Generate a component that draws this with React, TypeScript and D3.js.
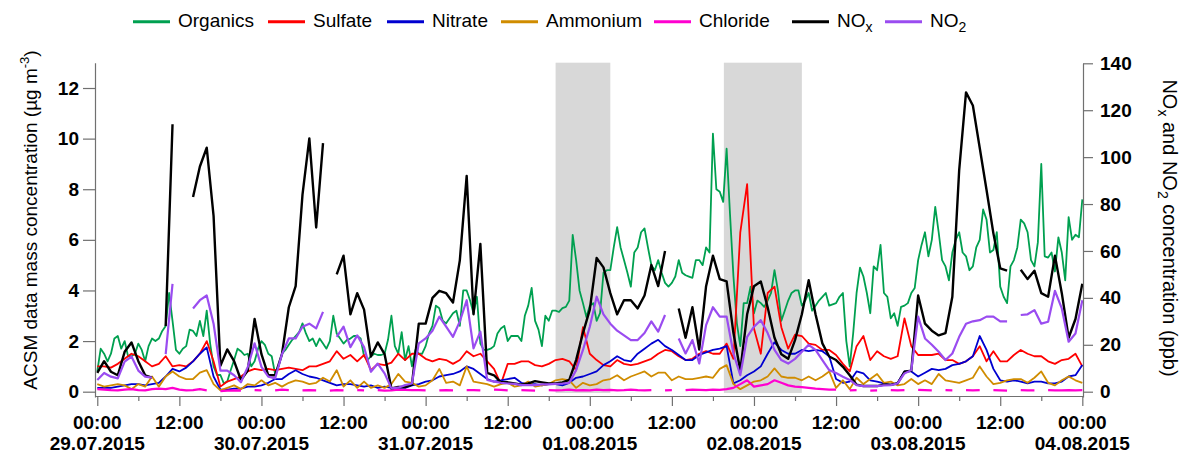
import React, { useEffect, useRef } from 'react'
import * as d3 from 'd3'

// measurements from 29.07.2015 00:00 to 04.08.2015 00:00
const START = Date.UTC(2015, 6, 29, 0, 0)

// organics: half-hourly (289 points)
const organics = [
  0.8, 1.7, 1.5, 1.2, 1.5, 2.1, 2.2, 1.7, 2.0, 1.4,
  1.4, 1.5, 1.9, 1.65, 1.2, 1.8, 2.1, 2.0, 2.1, 2.4,
  2.6, 3.9, 2.8, 1.65, 1.5, 1.7, 1.8, 2.45, 2.4, 2.2,
  2.8, 2.2, 3.2, 1.9, 1.0, 0.66, 0.66, 0.33, 0.4, 0.85,
  1.25, 1.7, 1.6, 1.45, 1.5, 1.0, 1.2, 1.7, 2.0, 1.85,
  1.5, 1.4, 0.7, 1.0, 1.5, 1.65, 1.85, 2.05, 2.2, 2.35,
  2.7, 2.3, 2.0, 2.1, 1.8, 2.1, 1.9, 1.7, 2.0, 3.0,
  2.3, 2.1, 1.9, 2.05, 2.1, 2.2, 2.2, 2.1, 1.4, 1.25,
  1.4, 1.5, 1.45, 1.45, 1.5, 2.05, 3.0, 1.8, 1.5, 2.35,
  1.25, 1.8, 1.0, 1.65, 1.5, 1.5, 1.8, 2.3, 2.6, 3.4,
  3.3, 2.8, 2.7, 2.9, 3.1, 3.2, 2.6, 4.0, 4.0, 3.6,
  3.1, 3.75, 1.9, 1.65, 1.65, 1.7, 1.8, 2.3, 2.5, 2.6,
  2.0, 2.2, 2.2, 2.2, 2.0, 3.0, 3.4, 4.1, 2.8, 2.45,
  1.8, 3.0, 2.8, 3.2, 3.2, 3.15, 3.3, 3.35, 3.6, 6.2,
  5.2, 4.0, 3.5, 2.95, 3.4, 3.5, 2.8, 3.1, 4.7, 4.8,
  4.8, 5.7, 6.5, 5.7, 5.2, 4.7, 4.15, 5.5, 5.7, 6.3,
  6.45, 5.7, 5.0, 4.8, 5.2, 4.7, 4.3, 4.15, 4.3, 4.55,
  5.2, 4.7, 4.6, 4.55, 4.5, 5.2, 5.2, 5.0, 5.7, 5.5,
  10.2, 8.0, 7.9, 7.5, 9.6, 7.0, 4.55, 2.7, 1.8, 3.5,
  3.5, 4.15, 3.1, 3.6, 3.5, 3.35, 3.6, 3.9, 4.8, 4.0,
  2.8, 3.2, 3.6, 3.9, 4.0, 4.0, 3.4, 3.6, 3.9, 3.2,
  3.4, 3.6, 3.75, 3.9, 3.4, 3.45, 3.5, 3.75, 3.9, 2.0,
  1.0, 2.3, 3.9, 4.9, 4.55, 3.9, 3.1, 4.95, 4.8, 5.8,
  3.9, 3.75, 2.9, 3.1, 2.6, 3.35, 3.4, 3.5, 3.9, 4.1,
  5.2, 5.8, 6.3, 5.35, 6.0, 7.3, 6.3, 5.2, 4.95, 4.4,
  5.5, 6.0, 6.3, 5.5, 5.35, 4.8, 4.95, 5.7, 6.0, 7.2,
  6.8, 5.5, 5.6, 6.3, 4.15, 3.75, 3.5, 4.95, 5.2, 5.7,
  6.8, 6.65, 6.3, 5.2, 4.95, 5.9, 9.0, 5.35, 5.3, 5.5,
  4.75, 6.1, 5.5, 4.4, 6.9, 6.0, 6.2, 6.1, 7.6,
]

// the rest: hourly (145 points)
const sulfate = [
  1.0, 1.0, 0.95, 1.1, 1.3, 1.5, 1.4, 1.2, 1.0, 1.1,
  1.4, 1.0, 1.05, 1.0, 1.2, 1.5, 2.0, 1.2, 0.2, 0.4,
  0.5, 0.6, 0.8, 0.9, 0.85, 0.9, 0.85, 0.9, 0.95, 0.9,
  0.85, 1.0, 1.0, 1.1, 1.2, 1.6, 1.3, 1.45, 1.2, 1.45,
  0.85, 1.1, 1.05, 1.15, 1.5, 1.25, 1.5, 1.5, 1.3, 1.2,
  1.3, 1.25, 1.1, 1.25, 1.6, 1.4, 1.5, 1.2, 0.9, 0.3,
  1.1, 1.1, 1.2, 1.2, 1.05, 1.0, 1.1, 1.25, 1.3, 1.2,
  0.85, 2.55, 1.5, 1.25, 1.05, 1.0, 1.25, 1.1, 1.05, 1.1,
  1.2, 1.3, 1.5, 1.65, 1.6, 1.4, 1.25, 1.3, 1.5, 1.6,
  1.5, 1.5, 1.9, 1.3, 6.3, 8.2, 2.5, 1.5, 3.9, 4.15,
  2.55, 1.7, 2.25, 2.2, 1.9, 1.85, 1.65, 1.65, 1.45, 1.1,
  0.8, 1.8, 2.2, 1.25, 1.6, 1.4, 1.3, 1.4, 2.9, 1.8,
  1.45, 1.45, 1.45, 1.5, 1.25, 1.25, 1.1, 1.2, 1.4, 1.8,
  1.2, 1.6, 1.2, 1.2, 1.45, 1.65, 1.5, 1.4, 1.4, 1.2,
  1.1, 1.25, 1.3, 1.5, 1.0,
]

const nitrate = [
  0.15, 0.15, 0.15, 0.2, 0.25, 0.3, 0.3, 0.25, 0.3, 0.35,
  0.6, 0.9, 0.8, 0.95, 1.2, 1.5, 1.75, 0.6, 0.08, 0.08,
  0.12, 0.12, 0.2, 0.2, 0.25, 0.35, 0.5, 0.5, 0.7, 0.85,
  0.7, 0.6, 0.55, 0.45, 0.35, 0.25, 0.3, 0.3, 0.25, 0.2,
  0.25, 0.15, 0.2, 0.15, 0.15, 0.15, 0.25, 0.3, 0.4, 0.45,
  0.6, 0.65, 0.7, 0.8, 1.0, 0.9, 0.7, 0.5, 0.4, 0.45,
  0.5, 0.55, 0.35, 0.3, 0.3, 0.25, 0.3, 0.3, 0.25, 0.35,
  0.55, 0.6, 0.7, 0.8, 1.05, 1.2, 1.4, 1.25, 1.2, 1.5,
  1.7, 1.9, 2.05, 1.8, 1.65, 1.45, 1.25, 1.25, 1.45, 1.55,
  1.65, 1.7, 1.8, 0.33, 0.45, 0.65, 0.8, 1.0, 1.5, 1.95,
  1.65, 1.5, 1.5, 1.65, 1.6, 1.65, 1.6, 1.4, 0.5, 0.35,
  0.4, 0.8, 0.72, 0.45, 0.4, 0.33, 0.26, 0.35, 0.8, 0.8,
  0.6, 0.75, 0.9, 0.85, 0.9, 1.05, 1.1, 1.2, 1.4, 2.2,
  1.65, 0.9, 0.45, 0.4, 0.45, 0.4, 0.33, 0.4, 0.4, 0.33,
  0.33, 0.4, 0.6, 0.65, 1.05,
]

const ammonium = [
  0.3, 0.2, 0.25, 0.3, 0.25, 0.1, 0.3, 0.2, 0.6, 0.2,
  0.6, 0.8, 0.6, 0.5, 0.5, 0.75, 0.85, 0.3, 0.05, 0.15,
  0.25, 0.1, 0.3, 0.25, 0.45, 0.25, 0.35, 0.2, 0.35, 0.45,
  0.4, 0.3, 0.35, 0.55, 0.4, 0.85, 0.2, 0.45, 0.15, 0.4,
  0.15, 0.25, 0.15, 0.3, 0.7, 0.4, 0.35, 0.2, 0.25, 0.45,
  0.9, 0.35, 0.4, 0.25, 1.0, 0.4, 0.35, 0.3, 0.2, 0.3,
  0.35, 0.2, 0.25, 0.4, 0.2, 0.25, 0.3, 0.45, 0.5, 0.45,
  0.15, 0.35, 0.25, 0.3, 0.45, 0.5, 0.65, 0.45, 0.6, 0.7,
  0.8, 0.6, 0.75, 0.75, 0.45, 0.6, 0.5, 0.5, 0.55, 0.6,
  0.55, 0.9, 1.05, 0.3, 0.1, 0.25, 0.4, 0.45, 0.6, 0.92,
  0.6, 0.55, 0.55, 0.45, 0.6, 0.45, 0.6, 0.8, 0.15, 0.45,
  0.1, 0.55, 0.3, 0.5, 0.7, 0.35, 0.4, 0.25, 0.3, 0.5,
  0.3, 0.45, 0.3, 0.7, 0.45, 0.4, 0.35, 0.45, 0.55, 1.0,
  0.6, 0.3, 0.35, 0.45, 0.5, 0.5, 0.35, 0.55, 0.8, 0.35,
  0.25, 0.45, 0.6, 0.45, 0.35,
]

const chloride = [
  0.1, 0.08, 0.06, 0.05, 0.08, 0.1, 0.06, 0.05, 0.1, 0.12,
  0.1, 0.15, 0.08, 0.05, 0.06, 0.1, 0.05, null, 0.02, 0.04,
  0.05, 0.04, null, 0.06, 0.05, null, 0.05, 0.08, 0.06, null,
  0.05, 0.06, 0.05, null, 0.04, 0.06, 0.05, null, 0.06, 0.05,
  null, 0.06, 0.04, 0.05, 0.08, 0.07, 0.06, 0.06, 0.05, null,
  0.05, 0.06, 0.05, null, 0.06, 0.06, 0.05, null, 0.08, 0.07,
  0.05, null, 0.06, 0.05, 0.04, null, 0.06, 0.05, 0.06, 0.08,
  0.05, 0.06, 0.05, 0.08, 0.06, 0.07, 0.05, 0.06, 0.08, 0.06,
  0.05, 0.06, null, 0.05, 0.06, null, 0.06, 0.08, 0.07, 0.06,
  0.08, 0.07, 0.1, 0.15, 0.3, 0.45, 0.2, 0.25, 0.3, 0.45,
  0.35, 0.25, 0.2, 0.18, 0.15, 0.12, 0.1, 0.08, 0.08, null,
  0.05, 0.06, null, 0.04, 0.05, null, 0.06, 0.05, 0.06, null,
  0.07, 0.06, 0.05, null, 0.06, 0.05, null, 0.06, 0.05, 0.06,
  null, 0.06, 0.05, 0.04, null, 0.06, 0.05, 0.05, null, 0.06,
  0.05, 0.05, 0.06, 0.05, 0.06,
]

// ppb, right axis
const nox = [
  8, 13, 8.5, 7, 17, 21, 13, 7, 6, null,
  28, 114, null, null, 83, 96, 104, 75, 11, 18,
  13, 5, 9, 31, 16, 7, 7, 16, 36, 45,
  84, 108, 70, 106, null, 50, 58, 33, 42, 35,
  15, 21, 16, 1.4, 2, 2, 3, 29, 29, 40,
  43, 42, 38, 56, 92, 33, 63, 8, 7, 4,
  4, 3.5, 3, 3.5, 4.5, 4, 3.5, 3.5, 4, 5,
  13.5, 25, 35, 57, 53, 42, 33, 39, 39, 35.5,
  41, 54, 45, 60, null, 35.5, 23, 36, 18, 45,
  58, 48, 47, 25, 9, 33, 45, 47, 36, 23,
  16, 14, 22, 33, 47.5, 33, 20.6, 15, 13.5, 10.6,
  7, 3, 2.4, 2.4, 2.4, 3, 3, 3.5, 8.5, 9,
  41, 29, 26, 24, 25, 40.5, 94.5, 127.6, 122, 104,
  86, 67.5, 52.6, 51.6, null, 52, 48, 51.6, 42, 40.5,
  58, 42, 23, 31, 46,
]

const no2 = [
  5, 8, 6.4, 5.7, 12.8, 15, 9, 6.4, 6, null,
  16, 46, null, null, 35.5, 39, 41, 29, 9, 9,
  7, 4, 10.6, 20.6, 10.6, 6.4, 5.7, 16, 22.7, 22.7,
  27.7, 29, 27, 34, null, 23.4, 27.7, 19, 24, 19,
  8.5, 12, 7.8, 1.4, 1.7, 2.8, 3.5, 20.6, 22.7, 26,
  32, 27.7, 23.4, 30, 39, 18.5, 25.6, 5, 4.3, 3.8,
  3.5, 3.3, 2.8, 2.8, 2.8, 3.1, 3.1, 3.3, 3.5, 3.8,
  9.2, 17.8, 27.7, 40.5, 33, 29, 26, 24, 22, 22,
  25, 30, 25.6, 32.7, null, 22.7, 16.3, 22, 12, 28.4,
  36, 32, 32, 16.3, 7, 23.4, 27.7, 30.5, 25, 17.8,
  13.5, 12, 14, 17, 20, 17.8, 13.5, 9.2, 8, 6.4,
  5, 2.8, 2.4, 2.4, 2.4, 2.7, 2.8, 3.5, 7.8, 9.2,
  32, 22.7, 20, 17, 13.5, 16.3, 23.4, 29, 30, 30.5,
  32, 32, 30, 30, null, 32.7, 33, 34.8, 29, 29.8,
  43, 35.5, 21.3, 24.8, 39,
]

const leftTicks = [0, 2, 4, 6, 8, 10, 12]
const rightTicks = [0, 20, 40, 60, 80, 100, 120, 140]
// shaded periods, hours after start
const shadedHours = [[67, 75], [91.6, 103]]

const series = [
  { name: 'Organics', values: organics, step: 0.5, color: '#00a050', width: 1.8, right: false },
  { name: 'Sulfate', values: sulfate, step: 1, color: '#ff0000', width: 1.8, right: false },
  { name: 'Nitrate', values: nitrate, step: 1, color: '#0000d0', width: 1.8, right: false },
  { name: 'Ammonium', values: ammonium, step: 1, color: '#d08c00', width: 1.8, right: false },
  { name: 'Chloride', values: chloride, step: 1, color: '#ff00d0', width: 2.2, right: false },
  { name: 'NO|x', values: nox, step: 1, color: '#000000', width: 2.4, right: true },
  { name: 'NO|2', values: no2, step: 1, color: '#9a4cf0', width: 2.2, right: true },
]
const legendX = [133, 268, 387, 501, 654, 792, 885]

const FONT = "'Liberation Sans', Arial, sans-serif"

export default function App() {
  const ref = useRef<SVGSVGElement | null>(null)

  useEffect(() => {
    document.body.style.margin = '0'
    const svg = d3.select(ref.current!)
    svg.selectAll('*').remove()

    const hour = 3600e3
    const x = d3.scaleUtc()
      .domain([new Date(START - 20 * 60e3), new Date(START + 144 * hour + 6 * 60e3)])
      .range([95, 1083])
    const yL = d3.scaleLinear().domain([-0.21, 13]).range([397, 62.7])
    const yR = d3.scaleLinear().domain([-2.26, 140]).range([397, 63.3])
    const t = (h: number) => new Date(START + h * hour)

    // shaded periods
    svg.append('g').selectAll('rect').data(shadedHours).enter().append('rect')
      .attr('x', d => x(t(d[0])))
      .attr('width', d => x(t(d[1])) - x(t(d[0])))
      .attr('y', yL(13))
      .attr('height', yL(-0.05) - yL(13))
      .attr('fill', '#d8d8d8')

    // series
    const lines = svg.append('g').attr('fill', 'none').attr('stroke-linejoin', 'round')
    series.forEach(s => {
      const y = s.right ? yR : yL
      const line = d3.line<number | null>()
        .defined(d => d != null)
        .x((_, i) => x(t(i * s.step)))
        .y(d => y(d as number))
      lines.append('path')
        .datum(s.values)
        .attr('d', line)
        .attr('stroke', s.color)
        .attr('stroke-width', s.width)
    })

    // axes
    const axisColor = '#707070'
    const styleAxis = (g: d3.Selection<SVGGElement, unknown, null, undefined>) => {
      g.attr('font-family', FONT).attr('font-size', 19).attr('font-weight', 'bold')
      g.selectAll('.domain').attr('stroke', axisColor).attr('stroke-width', 1.2)
      g.selectAll('.tick line').attr('stroke', axisColor).attr('stroke-width', 1.2)
      g.selectAll('.tick text').attr('fill', '#000')
    }

    svg.append('g').attr('transform', 'translate(95,0)')
      .call(d3.axisLeft(yL).tickValues(leftTicks).tickSize(12).tickSizeOuter(0).tickPadding(4))
      .call(styleAxis)

    svg.append('g').attr('transform', 'translate(1083,0)')
      .call(d3.axisRight(yR).tickValues(rightTicks).tickSize(10).tickSizeOuter(0).tickPadding(7))
      .call(styleAxis)

    const xg = svg.append('g').attr('transform', 'translate(0,396)')
      .call(d3.axisBottom(x).ticks(d3.utcHour.every(6)).tickSize(5).tickSizeOuter(0).tickFormat(() => ''))
      .call(styleAxis)
    xg.selectAll<SVGLineElement, Date>('.tick line')
      .filter(d => d.getUTCHours() % 12 === 0)
      .attr('y2', 10)

    const fmtTime = d3.utcFormat('%H:%M')
    const fmtDate = d3.utcFormat('%d.%m.%Y')
    const major = x.ticks(d3.utcHour.every(12)!)
    const labels = svg.append('g').attr('font-family', FONT).attr('font-size', 19)
      .attr('font-weight', 'bold').attr('text-anchor', 'middle')
    labels.selectAll('text.time').data(major).enter().append('text')
      .attr('class', 'time').attr('x', d => x(d)).attr('y', 428.5).text(d => fmtTime(d))
    labels.selectAll('text.date').data(major.filter(d => d.getUTCHours() === 0)).enter().append('text')
      .attr('class', 'date').attr('x', d => x(d)).attr('y', 450).text(d => fmtDate(d))

    // axis titles
    const lt = svg.append('text').attr('font-family', FONT).attr('font-size', 19)
      .attr('text-anchor', 'middle').attr('transform', 'translate(37,220) rotate(-90)')
    lt.append('tspan').text('ACSM data mass concentration (\u00b5g m')
    lt.append('tspan').attr('font-size', 13).attr('dy', -8).text('-3')
    lt.append('tspan').attr('dy', 8).text(')')

    const rt = svg.append('text').attr('font-family', FONT).attr('font-size', 20)
      .attr('text-anchor', 'middle').attr('transform', 'translate(1163,228) rotate(90)')
    rt.append('tspan').text('NO')
    rt.append('tspan').attr('font-size', 14).attr('dy', 5).text('x')
    rt.append('tspan').attr('dy', -5).text(' and NO')
    rt.append('tspan').attr('font-size', 14).attr('dy', 5).text('2')
    rt.append('tspan').attr('dy', -5).text(' concentration (ppb)')

    // legend
    const lg = svg.append('g').attr('font-family', FONT).attr('font-size', 19)
    series.forEach((s, i) => {
      const x0 = legendX[i]
      lg.append('line').attr('x1', x0).attr('x2', x0 + 37).attr('y1', 21.7).attr('y2', 21.7)
        .attr('stroke', s.color).attr('stroke-width', 3)
      const txt = lg.append('text').attr('x', x0 + 45).attr('y', 27.3)
      const [main, sub] = s.name.split('|')
      txt.append('tspan').text(main)
      if (sub) txt.append('tspan').attr('font-size', 14).attr('dy', 5).text(sub)
    })
  }, [])

  return <svg ref={ref} width={1180} height={454} style={{ display: 'block', background: '#fff' }} />
}
